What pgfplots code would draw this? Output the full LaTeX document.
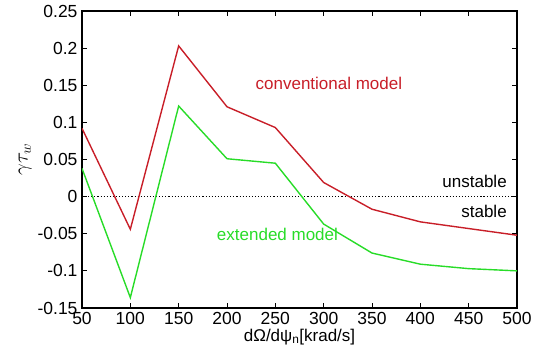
\documentclass[border=0pt]{standalone}
\usepackage{pgfplots}
\pgfplotsset{compat=1.18}
\usepackage{fontspec}
\setmainfont{Liberation Sans}
\usetikzlibrary{calc}
\definecolor{cred}{RGB}{200,30,40}
\definecolor{cgreen}{RGB}{40,220,40}
\begin{document}
\begin{tikzpicture}
\begin{axis}[
  name=ax,
  scale only axis,
  width=435bp, height=297bp,
  xmin=50, xmax=500, ymin=-0.15, ymax=0.25,
  xtick={50,100,...,500},
  ytick={-0.15,-0.1,-0.05,0,0.05,0.1,0.15,0.2,0.25},
  yticklabels={-0.15,-0.1,-0.05,0,0.05,0.1,0.15,0.2,0.25},
  tick align=inside,
  tick pos=both,
  major tick length=5bp,
  axis line style={black, line width=1.1pt},
  tick style={black, line width=0.8pt},
  font=\fontsize{17bp}{20bp}\selectfont,
  tick label style={font=\fontsize{17.5bp}{20bp}\selectfont},
  /pgf/number format/assume math mode=true,
  xticklabel style={yshift=-1bp},
  yticklabel style={xshift=-1bp},
  xlabel={dΩ/dψ\textsubscript{n}[krad/s]},
  ylabel={\fontsize{19bp}{22bp}\selectfont$\gamma\tau_{w}$},
  xlabel style={yshift=3bp},
  ylabel style={yshift=-1bp},
]
\addplot[black, dotted, line width=1.1pt] coordinates {(50,0) (500,0)};
\addplot[cred, line width=1.4pt] coordinates {
(50,0.092) (100,-0.044) (150,0.203) (200,0.121) (250,0.093) (300,0.019)
(350,-0.017) (400,-0.034) (450,-0.043) (500,-0.052)};
\addplot[cgreen, line width=1.4pt] coordinates {
(50,0.038) (100,-0.136) (150,0.122) (200,0.051) (250,0.045) (300,-0.037)
(350,-0.076) (400,-0.091) (450,-0.097) (500,-0.100)};
\node[cred, anchor=west] at (axis cs:226,0.153) {conventional model};
\node[cgreen, anchor=west] at (axis cs:186,-0.051) {extended model};
\node[black, anchor=east] at (axis cs:493,0.021) {unstable};
\node[black, anchor=east] at (axis cs:493,-0.020) {stable};
\end{axis}
\pgfresetboundingbox
\useasboundingbox ($(ax.south west)+(-82bp,-53bp)$) rectangle ($(ax.north east)+(30bp,11bp)$);
\end{tikzpicture}
\end{document}
